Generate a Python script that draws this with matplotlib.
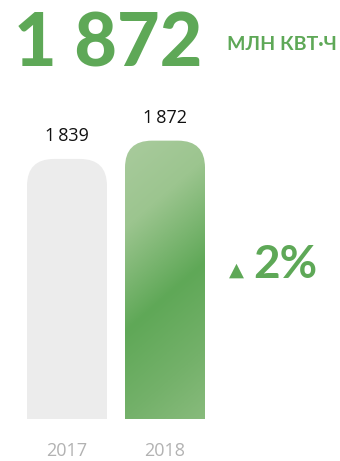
import numpy as np
import matplotlib
matplotlib.use("Agg")
import matplotlib.pyplot as plt
from matplotlib.patches import FancyBboxPatch
from matplotlib.colors import LinearSegmentedColormap
from matplotlib.transforms import ScaledTranslation

years = ["2017", "2018"]
values = [1839, 1872]
value_labels = ["1\u2009839", "1\u2009872"]
headline = "1 872"
unit = "МЛН КВТ·Ч"
change = "2%"

GREEN = "#5ea857"
GREY_BAR = "#ececec"
GREY_TXT = "#b2b2b2"

W, H = 340, 461
fig = plt.figure(figsize=(W / 100, H / 100), dpi=100)
fig.patch.set_facecolor("white")

# axes spans from the bar baseline (y=419px) up to y=100px
bottom_px, top_px = 419, 100
ax = fig.add_axes([0, (H - bottom_px) / H, 1, (bottom_px - top_px) / H])
px_per_x = 98.0
px_per_y = 0.5545
y0 = 1370
ax.set_xlim(-67 / px_per_x, (W - 67) / px_per_x)
ax.set_ylim(y0, y0 + (bottom_px - top_px) / px_per_y)
ax.axis("off")

bar_w = 80 / px_per_x
radius_x = 27 / px_per_x
aspect = (27 / px_per_y) / radius_x


def rounded_bar(x, v, color):
    below = 60
    p = FancyBboxPatch((x - bar_w / 2, y0 - below), bar_w, v - y0 + below,
                       boxstyle=f"round,pad=0,rounding_size={radius_x}",
                       mutation_aspect=aspect, facecolor=color,
                       edgecolor="none", zorder=2)
    ax.add_patch(p)
    return p


rounded_bar(0, values[0], GREY_BAR)
green_patch = rounded_bar(1, values[1], "none")

# diagonal gradient for the 2018 bar: light top, darker band, lighter bottom
cmap = LinearSegmentedColormap.from_list(
    "bar", [(0.0, "#a9cb9d"), (0.25, "#9cc58f"), (0.55, "#5fa857"),
            (0.8, "#74b16a"), (1.0, "#88bb7c")])
ny, nx = 300, 100
yy, xx = np.mgrid[0:1:ny * 1j, 0:1:nx * 1j]
t = yy + 0.25 * (xx - 0.5)
t = np.clip((t - t.min()) / (t.max() - t.min()), 0, 1)
img = ax.imshow(t, cmap=cmap, aspect="auto", origin="upper",
                extent=(1 - bar_w / 2, 1 + bar_w / 2, y0, values[1]),
                zorder=3, interpolation="bilinear")
img.set_clip_path(green_patch)

up = ScaledTranslation(0, 14 / 100, fig.dpi_scale_trans)
down = ScaledTranslation(0, -32 / 100, fig.dpi_scale_trans)
for i, (v, lab) in enumerate(zip(values, value_labels)):
    ax.text(i, v, lab, ha="center", va="bottom", fontsize=13,
            family="Open Sans", color="#111111", transform=ax.transData + up)

for i, y in enumerate(years):
    ax.text(i, y0, y, ha="center", va="center", fontsize=13,
            family="Open Sans", color=GREY_TXT, transform=ax.transData + down)

fig.text(14 / W, 1 - 45 / H, headline, fontsize=53, fontweight="black",
         family="Lato", color=GREEN, ha="left", va="center")
fig.text(227 / W, 1 - 45 / H, unit, fontsize=14, fontweight="bold",
         family="Lato", color=GREEN, ha="left", va="center")

fig.text(236 / W, 1 - 270 / H, "▲", fontsize=14, color=GREEN,
         family="DejaVu Sans", ha="center", va="center")
fig.text(253 / W, 1 - 265 / H, change, fontsize=33, fontweight="bold",
         family="Lato", color=GREEN, ha="left", va="center")

fig.savefig("out.png", dpi=100, facecolor="white")
